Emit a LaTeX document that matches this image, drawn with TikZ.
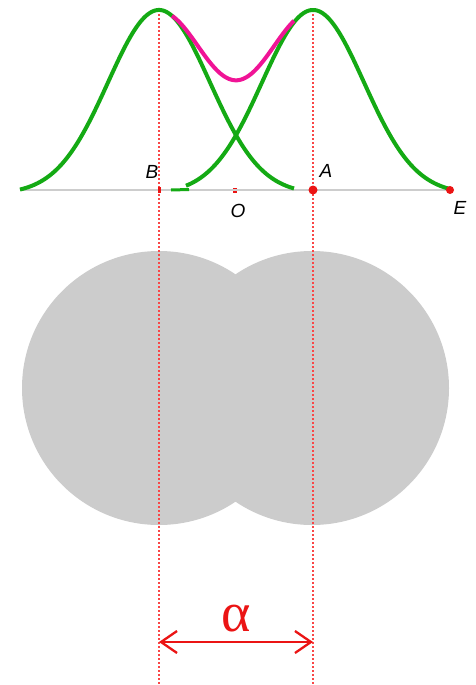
\documentclass[tikz,border=0pt]{standalone}
\usepackage{fontspec}
\setmainfont{Liberation Sans}
\newfontfamily\serifgreek{Liberation Serif}
\usetikzlibrary{arrows.meta}
\definecolor{curvegreen}{RGB}{20,170,20}
\definecolor{sumpink}{RGB}{240,20,150}
\definecolor{discgray}{RGB}{204,204,204}
\definecolor{axisgray}{RGB}{205,205,205}
\definecolor{dotred}{RGB}{250,70,70}
\definecolor{markred}{RGB}{235,20,20}
\tikzset{
  curve/.style={draw=curvegreen, line width=4pt, line join=round, line cap=butt},
  sumcurve/.style={draw=sumpink, line width=4pt, line join=round},
  guide/.style={draw=dotred, line width=1.4pt, dash pattern=on 2pt off 2pt},
  lab/.style={font=\itshape\fontsize{19}{19}\selectfont, text=black, inner sep=0pt},
  pt/.style={fill=markred, draw=none},
  dim/.style={draw=markred, line width=2.3pt, {Straight Barb[length=16pt,width=22pt]}-{Straight Barb[length=16pt,width=22pt]}}
}
\begin{document}
\begin{tikzpicture}[x=1pt,y=-1pt,
  declare function={gl(\t)=max(0,184*exp(-(((\t-159)/10)^2)/52)-4);
                    gr(\t)=max(0,184*exp(-(((\t-313)/10)^2)/52)-4);}]
\useasboundingbox (0,0) rectangle (475,685);
\fill[white] (0,0) rectangle (475,685);
% coordinates
\coordinate (B) at (159,190);
\coordinate (A) at (313,190);
\coordinate (O) at (235,190);
\coordinate (E) at (450,190);
\coordinate (axisL) at (20,190);
\coordinate (Btop) at (159,10);
\coordinate (Atop) at (313,10);
\coordinate (Bbot) at (159,685);
\coordinate (Abot) at (313,685);
\coordinate (arrL) at (159,642);
\coordinate (arrR) at (313,642);
\coordinate (stubL) at (171,190);
\coordinate (stubR) at (189,189.5);
% discs
\fill[discgray] (159,388) circle[radius=137pt];
\fill[discgray] (312,388) circle[radius=137pt];
% axis
\draw[axisgray, line width=2pt] (axisL) -- (E);
% guide lines
\draw[guide] (Btop) -- (Bbot);
\draw[guide] (Atop) -- (Abot);
% gaussian curves
\draw[curve] plot[domain=20:294, samples=140] (\x, {190-gl(\x)});
\draw[curve] plot[domain=186:450, samples=140] (\x, {190-gr(\x)});
\draw[curvegreen, line width=3pt] (stubL) -- (stubR);
% sum curve
\draw[sumcurve] plot[domain=172:294, samples=80] (\x, {190-gl(\x)-gr(\x)});
% points
\fill[pt] (157.5,187) rectangle (160.5,193);
\fill[pt] (233,187.5) rectangle (237,189.2);
\fill[pt] (233,190.8) rectangle (237,192.5);
\fill[pt] (A) circle[radius=4.5pt];
\fill[pt] (E) circle[radius=4pt];
% labels
\node[lab] (labB) at (152,172) {B};
\node[lab] (labA) at (326,171) {A};
\node[lab] (labO) at (238,211) {O};
\node[lab] (labE) at (460,208) {E};
% dimension
\draw[dim] (arrL) -- (arrR);
\node[text=markred, font=\serifgreek\fontsize{56}{56}\selectfont, inner sep=0pt] (alpha) at (236,619) {α};
\end{tikzpicture}
\end{document}
